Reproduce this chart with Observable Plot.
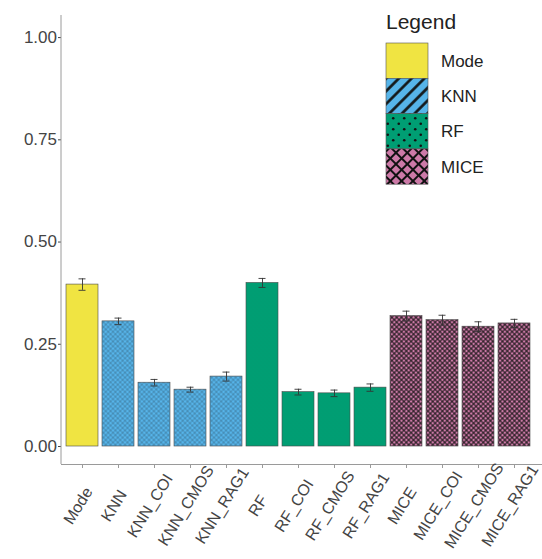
<!DOCTYPE html>
<html>
<head>
<meta charset="utf-8">
<script src="https://cdn.jsdelivr.net/npm/d3@7"></script>
<script src="https://cdn.jsdelivr.net/npm/@observablehq/plot@0.6"></script>
<style>
  html, body { margin: 0; padding: 0; background: #fff; }
  #chart { width: 542px; height: 559px; overflow: hidden; }
</style>
</head>
<body>
<div id="chart"></div>
<script>
// ---- data ----
const categories = ["Mode", "KNN", "KNN_COI", "KNN_CMOS", "KNN_RAG1", "RF", "RF_COI", "RF_CMOS", "RF_RAG1", "MICE", "MICE_COI", "MICE_CMOS", "MICE_RAG1"];
const groups = ["Mode", "KNN", "KNN", "KNN", "KNN", "RF", "RF", "RF", "RF", "MICE", "MICE", "MICE", "MICE"];
const means = [0.396, 0.306, 0.156, 0.139, 0.171, 0.400, 0.133, 0.130, 0.144, 0.319, 0.309, 0.293, 0.301];
const errs = [0.014, 0.008, 0.008, 0.006, 0.011, 0.011, 0.007, 0.008, 0.009, 0.012, 0.012, 0.012, 0.010];
const legendGroups = ["Mode", "KNN", "RF", "MICE"];
const groupColors = ["#F0E442", "#56B4E9", "#009E73", "#CC79A7"];
const yTicks = [0, 0.25, 0.5, 0.75, 1];
const yDomain = [-0.044, 1.054];

const rows = categories.map((c, i) => ({cat: c, group: groups[i], mean: means[i], lo: means[i] - errs[i], hi: means[i] + errs[i]}));
const fillUrl = {Mode: "url(#pbar-Mode)", KNN: "url(#pbar-KNN)", RF: "url(#pbar-RF)", MICE: "url(#pbar-MICE)"};
const font = "'Liberation Sans', Arial, Helvetica, sans-serif";

const plot = Plot.plot({
  width: 542,
  height: 559,
  marginTop: 15,
  marginBottom: 95,
  marginLeft: 61,
  marginRight: 6,
  style: {fontFamily: font, background: "#fff"},
  x: {domain: categories, paddingInner: 0.11, paddingOuter: 0.15, axis: null},
  y: {domain: yDomain, axis: null},
  marks: [
    Plot.barY(rows, {x: "cat", y: "mean", fill: d => fillUrl[d.group], stroke: "#4a4a4a", strokeWidth: 0.6}),
    Plot.ruleX(rows, {x: "cat", y1: "lo", y2: "hi", stroke: "#333", strokeWidth: 0.9}),
    Plot.tickY(rows, {x: "cat", y: "lo", stroke: "#333", strokeWidth: 0.9, insetLeft: 12.5, insetRight: 12.5}),
    Plot.tickY(rows, {x: "cat", y: "hi", stroke: "#333", strokeWidth: 0.9, insetLeft: 12.5, insetRight: 12.5}),
    Plot.ruleY([yDomain[0]], {stroke: "#9a9a9a", strokeWidth: 1, insetRight: -8}),
    Plot.axisY({ticks: yTicks, tickFormat: d3.format(".2f"), tickSize: 3, tickPadding: 1.5, fontSize: 17, color: "#444", label: null}),
    Plot.axisX({tickSize: 4, tickFormat: () => "", stroke: "#9a9a9a", label: null}),
    Plot.text(categories, {x: d => d, frameAnchor: "bottom", dy: 44, rotate: -58, fontSize: 16, fill: "#444", textAnchor: "middle"})
  ]
});

document.getElementById("chart").appendChild(plot);

// ---- patterns ----
const svg = d3.select(plot);
const defs = svg.insert("defs", ":first-child");

function stripes(id, color, size, sw, op) {
  const p = defs.append("pattern").attr("id", id).attr("patternUnits", "userSpaceOnUse")
    .attr("width", size).attr("height", size).attr("patternTransform", "rotate(45)");
  p.append("rect").attr("width", size).attr("height", size).attr("fill", color);
  p.append("line").attr("x1", size / 2).attr("x2", size / 2).attr("y1", 0).attr("y2", size)
    .attr("stroke", "#111").attr("stroke-width", sw).attr("stroke-opacity", op);
}
function cross(id, color, size, sw, op) {
  const p = defs.append("pattern").attr("id", id).attr("patternUnits", "userSpaceOnUse")
    .attr("width", size).attr("height", size).attr("patternTransform", "rotate(45)");
  p.append("rect").attr("width", size).attr("height", size).attr("fill", color);
  p.append("line").attr("x1", size / 2).attr("x2", size / 2).attr("y1", 0).attr("y2", size)
    .attr("stroke", "#111").attr("stroke-width", sw).attr("stroke-opacity", op);
  p.append("line").attr("y1", size / 2).attr("y2", size / 2).attr("x1", 0).attr("x2", size)
    .attr("stroke", "#111").attr("stroke-width", sw).attr("stroke-opacity", op);
}
function dots(id, color, size, r, op) {
  const p = defs.append("pattern").attr("id", id).attr("patternUnits", "userSpaceOnUse")
    .attr("width", size).attr("height", size);
  p.append("rect").attr("width", size).attr("height", size).attr("fill", color);
  p.append("circle").attr("cx", size / 4).attr("cy", size / 4).attr("r", r).attr("fill", "#111").attr("fill-opacity", op);
  p.append("circle").attr("cx", 3 * size / 4).attr("cy", 3 * size / 4).attr("r", r).attr("fill", "#111").attr("fill-opacity", op);
}
function solid(id, color) {
  const p = defs.append("pattern").attr("id", id).attr("patternUnits", "userSpaceOnUse").attr("width", 4).attr("height", 4);
  p.append("rect").attr("width", 4).attr("height", 4).attr("fill", color);
}
// fine patterns for bars
solid("pbar-Mode", groupColors[0]);
cross("pbar-KNN", groupColors[1], 3.4, 0.6, 0.35);
dots("pbar-RF", groupColors[2], 4, 0.35, 0.2);
cross("pbar-MICE", groupColors[3], 3.4, 1.1, 0.85);
// coarse patterns for legend
solid("pleg-Mode", groupColors[0]);
stripes("pleg-KNN", groupColors[1], 9, 2.6, 1);
dots("pleg-RF", groupColors[2], 11, 1.3, 1);
cross("pleg-MICE", groupColors[3], 8, 2, 1);

// ---- left axis line ----
const sx = plot.scale("x"), sy = plot.scale("y");
svg.append("line").attr("x1", sx.range[0]).attr("x2", sx.range[0])
  .attr("y1", sy.apply(yDomain[1])).attr("y2", sy.apply(yDomain[0]))
  .attr("stroke", "#9a9a9a").attr("stroke-width", 1);

// ---- legend ----
const lg = svg.append("g").attr("font-family", font).attr("text-anchor", "start");
lg.append("text").attr("x", 386).attr("y", 29).attr("font-size", 21).attr("fill", "#222").text("Legend");
const keyW = 42, keyH = 35.3, keyX = 386, keyY = 43;
legendGroups.forEach((g, i) => {
  lg.append("rect").attr("x", keyX).attr("y", keyY + i * keyH).attr("width", keyW).attr("height", keyH)
    .attr("fill", `url(#pleg-${g})`).attr("stroke", "#555").attr("stroke-width", 0.6);
  lg.append("text").attr("x", keyX + keyW + 13).attr("y", keyY + i * keyH + keyH / 2)
    .attr("dy", "0.35em").attr("font-size", 17).attr("fill", "#222").text(g);
});
</script>
</body>
</html>
